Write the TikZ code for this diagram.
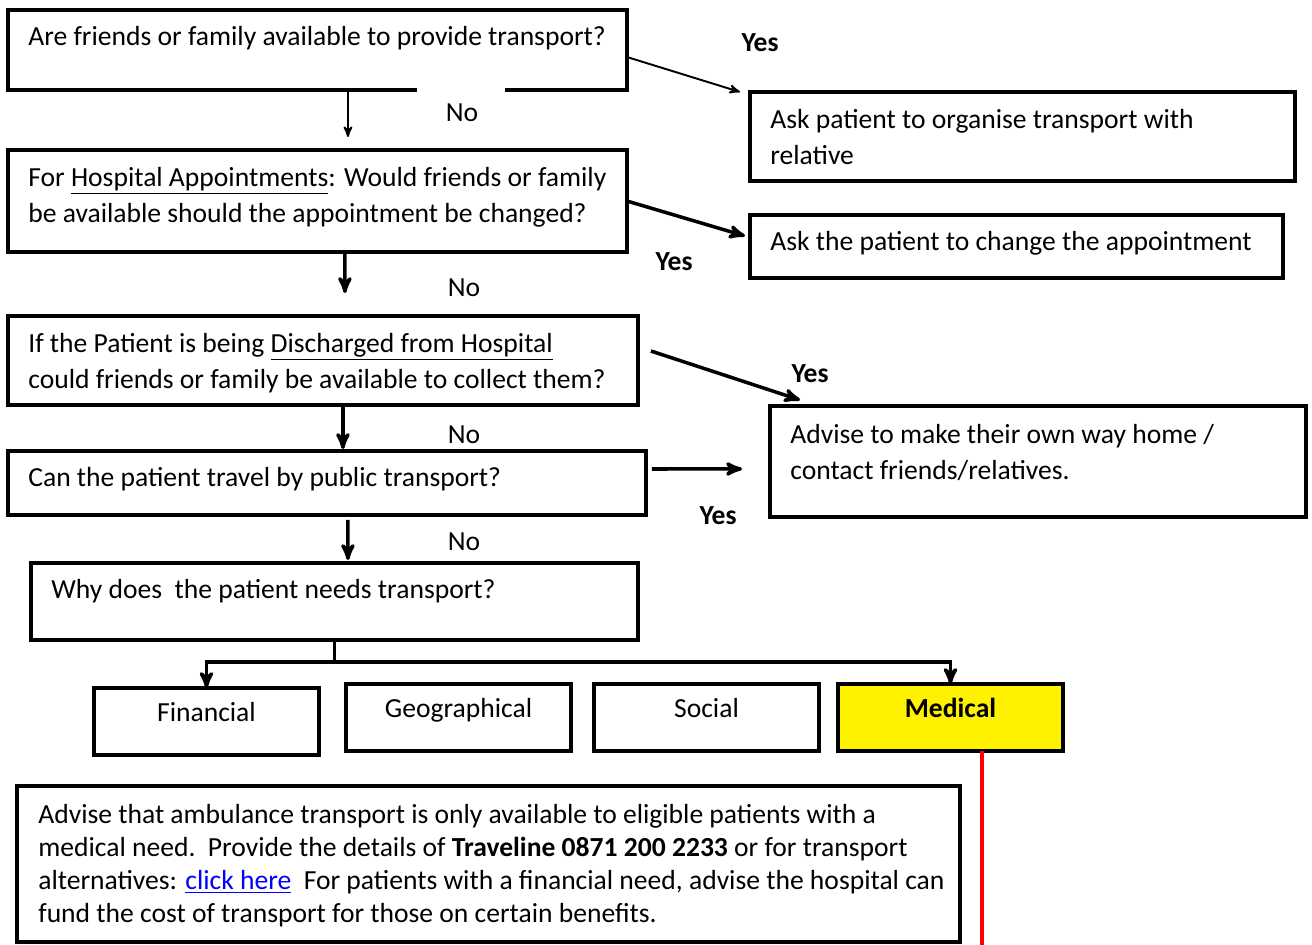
\documentclass[tikz,border=0pt]{standalone}
\usepackage{fontspec}
\setmainfont{Carlito}
\usepackage{tikz}
\usetikzlibrary{arrows,positioning}

\begin{document}
\begin{tikzpicture}[x=0.02cm,y=-0.02cm,>=stealth',
    box/.style={draw,line width=2pt,anchor=north west,outer sep=0pt,inner sep=0pt},
    cat/.style={box,minimum width=45mm,text height=6.7mm,text depth=6.7mm,
                font=\fontsize{15.7}{19}\selectfont},
    txt/.style={inner sep=0pt,align=left,font=\fontsize{15.7}{20.5}\selectfont},
    info/.style={txt,font=\fontsize{15.7}{18.8}\selectfont},
    no/.style={font=\fontsize{15.7}{19}\selectfont},
    yes/.style={font=\fontsize{15.7}{19}\selectfont\bfseries},
    arr/.style={->,line width=2pt},
    thinarr/.style={->,line width=1.1pt}]
\useasboundingbox (0,0) rectangle (1312,945);

% question column
\node [box,draw=none,minimum width=123.8mm,minimum height=16mm] (q1) at (8,10) {};
\draw [line width=2pt] ([xshift=81.8mm]q1.south west) -| (q1.north west)
      -| (q1.south east) -- ([xshift=-24.4mm]q1.south east);
\node [txt] (q1t) [below right=3.2mm and 4mm of q1.north west]
      {Are friends or family available to provide transport?};

\node [box,minimum width=123.8mm,minimum height=20.4mm] (q2) at (8,150) {};
\node [txt] (q2t) [below right=3.4mm and 4mm of q2.north west]
      {For \underline{Hospital Appointments}: Would friends or family\\
       be available should the appointment be changed?};

\node [box,minimum width=126mm,minimum height=17.8mm] (q3) at (8,316) {};
\node [txt] (q3t) [below right=3.4mm and 4mm of q3.north west]
      {If the Patient is being \underline{Discharged from Hospital}\\
       could friends or family be available to collect them?};

\node [box,minimum width=127.6mm,minimum height=12.8mm] (q4) at (8,451) {};
\node [txt] (q4t) [below right=3.2mm and 4mm of q4.north west]
      {Can the patient travel by public transport?};

\node [box,minimum width=121.4mm,minimum height=15.4mm] (q5) at (31,563) {};
\node [txt] (q5t) [below right=3.2mm and 4mm of q5.north west]
      {Why does\ \ the patient needs transport?};

% answers
\node [box,minimum width=109mm,minimum height=17.8mm] (a1) at (750,92) {};
\node [txt] (a1t) [below right=3.4mm and 4mm of a1.north west]
      {Ask patient to organise transport with\\ relative};

\node [box,minimum width=106.6mm,minimum height=12.6mm] (a2) at (750,215) {};
\node [txt] (a2t) [below right=3.2mm and 4mm of a2.north west]
      {Ask the patient to change the appointment};

\node [box,minimum width=107.2mm,minimum height=22.2mm] (a3) at (770,406) {};
\node [txt] (a3t) [below right=3.6mm and 4mm of a3.north west]
      {Advise to make their own way home /\\ contact friends/relatives.};

% reasons
\node [cat] (fin) at (94,688) {Financial};
\node [cat] (geo) at (346,684) {Geographical};
\node [cat] (soc) at (594,684) {Social};
\node [cat,fill=yellow,font=\fontsize{15.7}{19}\selectfont\bfseries] (med) at (838,684) {Medical};

\node [box,minimum width=188.6mm,minimum height=31.2mm] (adv) at (17,786) {};
\node [info] (advt) [below right=3.6mm and 4.2mm of adv.north west]
      {Advise that ambulance transport is only available to eligible patients with a\\
       medical need.\ \ Provide the details of \textbf{Traveline 0871 200 2233} or for transport\\
       alternatives: \textcolor{blue}{\underline{click here}}\ \ For patients with a financial need, advise the hospital can\\
       fund the cost of transport for those on certain benefits.};

% labels
\node [no] (no1) at (462,113) {No};
\node [no] (no2) at (464,288) {No};
\node [no] (no3) at (464,435) {No};
\node [no] (no4) at (464,542) {No};
\node [yes] (yes1) at (760,43) {Yes};
\node [yes] (yes2) at (674,262) {Yes};
\node [yes] (yes3) at (810,374) {Yes};
\node [yes] (yes4) at (718,516) {Yes};

% connectors
\draw [thinarr,shorten >=2.6mm] ([xshift=6.1mm]q1.south) -- ([xshift=6.1mm]q2.north);
\draw [thinarr] ([yshift=-1.4mm]q1.east) -- ([xshift=-2mm]a1.north west);
\draw [arr,shorten >=4.6mm] ([xshift=5.5mm]q2.south) -- ([xshift=4.4mm]q3.north);
\draw [arr] (q2.east) -- ([xshift=-1mm,yshift=2.1mm]a2.west);
\draw [arr] ([xshift=2.6mm,yshift=1.9mm]q3.east) -- ([xshift=6mm,yshift=1.2mm]a3.north west);
\draw [arr,shorten >=0.4mm] ([xshift=4mm]q3.south) -- ([xshift=3.2mm]q4.north);
\draw [arr] ([xshift=1.2mm,yshift=2.8mm]q4.east) -- ([xshift=-5.6mm,yshift=-1.5mm]a3.west);
\draw [arr,shorten <=1mm,shorten >=0.6mm] ([xshift=4.2mm]q4.south) -- ([xshift=2.7mm]q5.north);
\coordinate (split) at ([yshift=-4.4mm]q5.south);
\draw [line width=2pt] (q5.south) -- (split);
\draw [arr] (split) -| (fin.north);
\draw [arr] (split) -| (med.north);
\coordinate (redend) at (982,945);
\draw [red,line width=2pt] (redend |- med.south) -- (redend);
\end{tikzpicture}
\end{document}
